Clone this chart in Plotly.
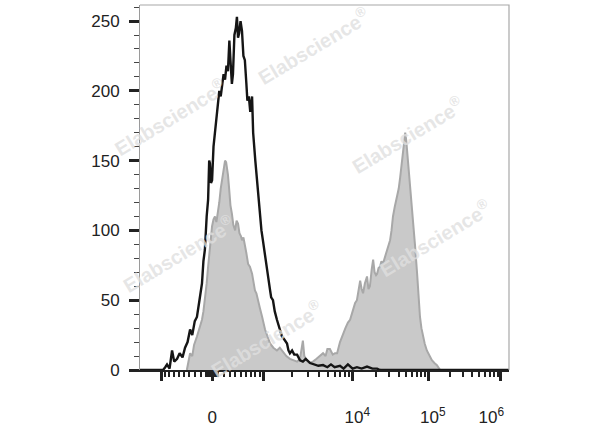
import numpy as np
import plotly.graph_objects as go

# ---------------- data (display channel 0..1024, counts) ----------------
black_ch = [0, 64, 70, 75, 82, 89, 95, 103, 110, 118, 125, 132, 139, 145, 152, 158, 165, 172, 176,
            180, 185, 189, 192, 194, 197, 200, 204, 208, 212, 216, 220, 224, 228, 232, 236, 240,
            244, 248, 251, 255, 258, 262, 266, 269, 272, 275, 279, 283, 287, 291, 295, 298, 302,
            306, 311, 314, 320, 325, 329, 333, 337, 341, 346, 352, 356, 361, 364, 369, 374, 380,
            387, 394, 400, 408, 412, 416, 422, 428, 436, 444, 452, 460, 472, 485, 495, 508, 520,
            530, 540, 555, 565, 577, 590, 602, 615, 630, 645, 658, 666, 1024]
black_cnt = [0, 0, 2, 4, 1, 14, 6, 8, 12, 9, 16, 20, 29, 25, 35, 38, 50, 62, 78,
             86, 110, 122, 150, 148, 134, 136, 160, 170, 180, 186, 200, 196, 205, 212, 208, 218,
             214, 236, 222, 205, 212, 240, 245, 253, 238, 241, 250, 243, 225, 222, 206, 193, 196,
             185, 196, 170, 150, 134, 125, 112, 100, 93, 85, 74, 66, 57, 52, 50, 42, 36,
             30, 24, 22, 19, 14, 12, 14, 11, 11, 7, 6, 8, 5, 4, 3, 3.5, 2,
             4, 2, 3, 1, 4, 1, 2, 1, 2.5, 1, 1, 0, 0]

gray_ch = [130, 139, 145, 150, 158, 165, 172, 176, 180, 185, 189, 194, 200, 204, 208, 212, 216,
           220, 224, 228, 232, 236, 239, 241, 244, 247, 251, 255, 259, 264, 268, 272, 276, 280,
           283, 287, 291, 295, 300, 305, 311, 315, 319, 323, 327, 333, 339, 343, 347, 354, 361,
           370, 380, 388, 397, 406, 416, 426, 436, 444, 452, 456, 462, 470, 480, 490, 500, 508,
           515, 520, 527, 535, 541, 547, 555, 563, 570, 577, 583, 590, 597, 602, 607, 611, 615,
           619, 624, 630, 634, 638, 643, 647, 651, 655, 658, 662, 666, 670, 674, 679, 685, 690,
           694, 698, 702, 707, 713, 718, 722, 726, 730, 733, 736, 739, 741, 745, 749, 753, 758,
           763, 769, 773, 777, 781, 785, 790, 796, 803, 810, 817, 824, 833]
gray_cnt = [0, 12, 10, 18, 24, 30, 36, 42, 50, 62, 74, 88, 103, 108, 110, 106, 112,
            120, 130, 136, 144, 150, 149, 146, 140, 131, 118, 112, 104, 100, 107, 105, 98, 96,
            93, 95, 88, 84, 76, 74, 69, 62, 57, 55, 50, 44, 38, 33, 29, 24, 19,
            16, 14, 16, 13, 10, 8, 7, 6, 8, 21, 10, 7, 5, 6, 8, 10, 12,
            10, 15, 15, 11, 12, 12, 20, 26, 30, 34, 36, 42, 48, 50, 58, 64, 58,
            55, 62, 67, 58, 60, 72, 79, 70, 68, 69, 73, 74, 78, 76, 80, 86, 90,
            93, 100, 110, 117, 124, 130, 138, 148, 160, 165, 170, 164, 158, 145, 131, 120, 110,
            90, 69, 52, 38, 30, 24, 19, 14, 10, 7, 5, 3.5, 0]

y_ticks = [0, 50, 100, 150, 200, 250]
x_major_vals = [-1000, 0, 1000, 1e4, 1e5, 1e6]
x_major_text = ["", "0", "",
                "&nbsp;&nbsp;10<sup>4</sup>",
                "&nbsp;&nbsp;10<sup>5</sup>",
                "10<sup>6</sup>&nbsp;&nbsp;&nbsp;&nbsp;"]
watermark = "Elabscience<sup>®</sup>"


# ---------------- logicle display scale ----------------
def logicle_channel(values, T=1.295e6, M=5.1, W=1.0, n_ch=1024):
    ln10 = np.log(10.0)
    m, w = M * ln10, W * ln10
    pg = np.linspace(1.01, 20, 200000)
    p = np.interp(w, 2 * pg * np.log(pg) / (pg + 1), pg)
    xg = np.linspace(0, m, 200001)

    def s_pos(x):
        u = x - w
        return T * np.exp(-(m - w)) * (np.exp(u) - p ** 2 * np.exp(-u / p) + p ** 2 - 1)

    sg = np.where(xg >= w, s_pos(xg), -s_pos(2 * w - xg))
    return np.interp(np.asarray(values, float), sg, xg) / m * n_ch


minor_vals = []
for dec in [10, 100, 1000, 10000, 100000]:
    for k in range(1, 10):
        v = k * dec
        if v in x_major_vals:
            continue
        minor_vals.append(v)
        if v < 1000:
            minor_vals.append(-v)
minor_vals += [2e6]
minor_ch = [c for c in logicle_channel(minor_vals) if 0 < c < 1024]
major_ch = list(logicle_channel(x_major_vals))

fig = go.Figure()
fig.add_trace(go.Scatter(x=gray_ch, y=gray_cnt, mode="lines", fill="tozeroy",
                         fillcolor="#c9c9c9", line=dict(color="#a8a8a8", width=2),
                         showlegend=False, hoverinfo="skip"))
fig.add_trace(go.Scatter(x=black_ch, y=black_cnt, mode="lines",
                         line=dict(color="#151515", width=2.4),
                         showlegend=False, hoverinfo="skip"))

L, R, T_, B = 140, 509, 5, 370
W_, H_ = 600, 427
font_family = "Liberation Sans, Arial, sans-serif"

fig.update_layout(
    width=W_, height=H_,
    margin=dict(l=L, r=W_ - R, t=T_, b=H_ - B, pad=0, autoexpand=False),
    plot_bgcolor="white", paper_bgcolor="white",
    font=dict(family=font_family, color="#222222", size=16),
    xaxis=dict(range=[0, 1024], showgrid=False, zeroline=False, automargin=False,
               showline=True, linecolor="#222222", linewidth=2,
               tickmode="array", tickvals=major_ch, ticktext=x_major_text,
               ticks="outside", ticklen=9, tickwidth=2.5, tickcolor="#222222",
               ticklabelstandoff=22, tickfont=dict(size=17, color="#222222"),
               minor=dict(tickmode="array", tickvals=minor_ch, ticks="outside",
                          ticklen=5, tickwidth=1.5, tickcolor="#222222")),
    yaxis=dict(range=[0, 261.5], showgrid=False, zeroline=False, automargin=False,
               showline=True, linecolor="#9a9a9a", linewidth=1,
               tickmode="array", tickvals=y_ticks,
               ticks="outside", ticklen=10, tickwidth=2.5, tickcolor="#222222",
               ticklabelstandoff=6, tickfont=dict(size=17, color="#222222"),
               minor=dict(dtick=10, ticks="outside", ticklen=5, tickwidth=1.2,
                          tickcolor="#444444")),
    shapes=[dict(type="path", xref="paper", yref="paper",
                 path="M 0,1 L 1,1 L 1,0", line=dict(color="#a8a8a8", width=1.2))],
)

# watermarks (paper coordinates)
wm_pos = [(313, 45), (170, 117), (407, 134), (178, 253), (435, 238), (266, 338)]
for px, py in wm_pos:
    fig.add_annotation(xref="paper", yref="paper", xanchor="center", yanchor="middle",
                       x=(px - L) / (R - L), y=(B - py) / (B - T_),
                       text="<b>" + watermark + "</b>", showarrow=False, textangle=-31,
                       font=dict(family=font_family, size=20, color="rgba(224,224,224,0.8)"))

fig.write_html("out.html", config={"displayModeBar": False},
               post_script="document.body.style.margin='0px';")
